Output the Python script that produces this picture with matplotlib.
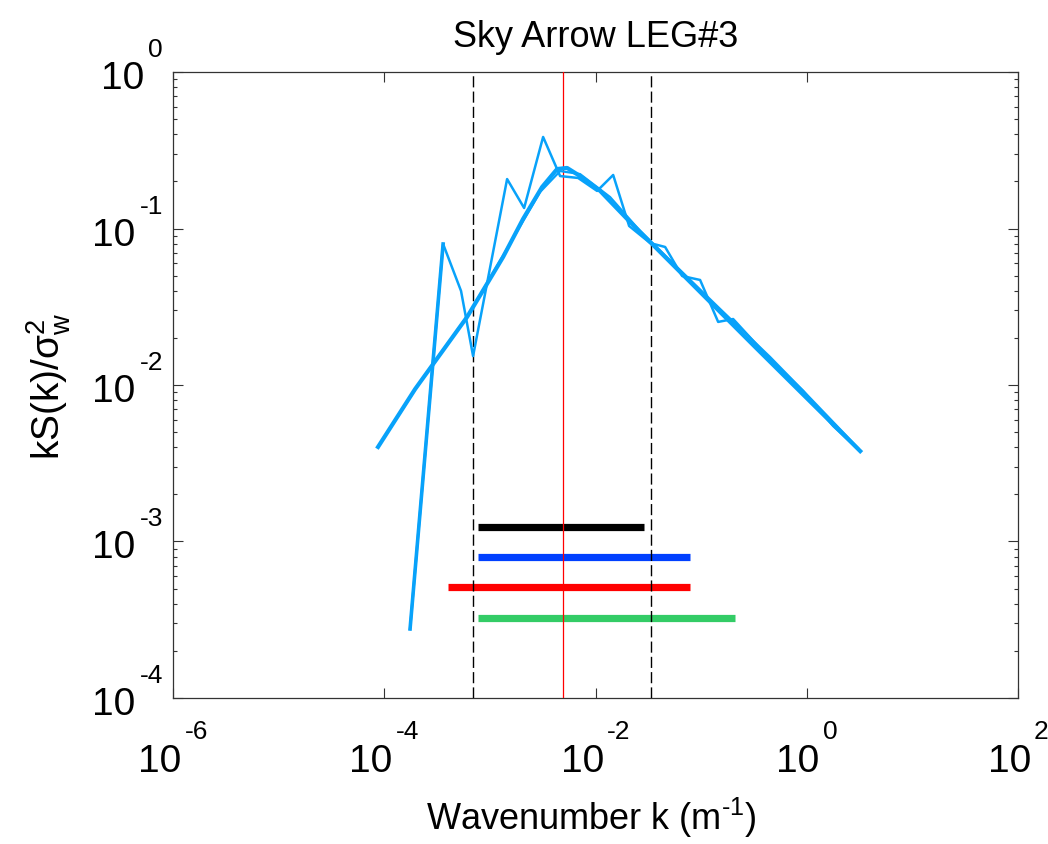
import numpy as np
import matplotlib
matplotlib.use('Agg')
import matplotlib.pyplot as plt

plt.rcParams['font.family'] = ['Liberation Sans', 'DejaVu Sans']
plt.rcParams['mathtext.fontset'] = 'custom'
plt.rcParams['mathtext.rm'] = 'Liberation Sans'
plt.rcParams['mathtext.it'] = 'Liberation Sans'
plt.rcParams['mathtext.bf'] = 'Liberation Sans:bold'

# Espectro crudo
k_raw = [1.754e-4, 3.606e-4, 5.33e-4, 6.93e-4, 1.455e-3, 2.109e-3, 3.19e-3, 4.62e-3,
         6.84e-3, 1.035e-2, 1.469e-2, 2.08e-2, 3.29e-2, 4.56e-2, 6.61e-2, 9.77e-2,
         0.1449, 0.2009, 0.4217, 0.9247, 1.778, 3.206]
s_raw = [2.761e-4, 7.96e-2, 3.99e-2, 1.531e-2, 0.207, 0.1352, 0.3846, 0.2163,
         0.2104, 0.1738, 0.2198, 0.1038, 8.07e-2, 7.62e-2, 4.97e-2, 4.69e-2,
         2.53e-2, 2.64e-2, 1.531e-2, 9.16e-3, 5.47e-3, 3.78e-3]

# Espectro promediado por bandas
k_bin = [9.12e-5, 2.183e-4, 6.49e-4, 1.393e-3, 2.985e-3, 4.62e-3, 7.14e-3, 1.374e-2,
         2.642e-2, 6.32e-2, 0.1514, 0.4498, 1.076, 3.069]
s_bin = [4.20e-3, 1.045e-2, 2.92e-2, 7.08e-2, 0.171, 0.2328, 0.2228, 0.1589,
         9.64e-2, 5.43e-2, 3.06e-2, 1.51e-2, 8.26e-3, 3.95e-3]

# Modelo ajustado
k_fit = [8.73e-5, 1.959e-4, 6.08e-4, 9.62e-4, 1.334e-3, 2.061e-3, 3.12e-3, 4.33e-3,
         5.38e-3, 7.14e-3, 1.107e-2, 1.99e-2, 3.29e-2, 0.3243, 3.206]
s_fit = [4.02e-3, 9.42e-3, 2.72e-2, 4.55e-2, 6.58e-2, 0.1151, 0.1841, 0.2399,
         0.2438, 0.2163, 0.1738, 0.1151, 8.20e-2, 1.750e-2, 3.78e-3]

# Rangos (barras horizontales)
bar_y = [1.24e-3, 7.96e-4, 5.12e-4, 3.24e-4]
bar_k0 = [7.73e-4, 7.73e-4, 4.02e-4, 7.73e-4]
bar_k1 = [2.88e-2, 7.87e-2, 7.87e-2, 0.210]
bar_colors = ['black', '#0040ff', '#ff0000', '#33cc66']

# Lineas verticales
k_dash = [6.93e-4, 3.37e-2]
k_peak = 4.93e-3

xtick_exp = [-6, -4, -2, 0, 2]
ytick_exp = [-4, -3, -2, -1, 0]

blue = '#08a2fa'

fig = plt.figure(figsize=(10.48, 8.45), dpi=100)
ax = fig.add_axes([0.1651, 0.1728, 0.8063, 0.7408])

for y, a, b, c in zip(bar_y, bar_k0, bar_k1, bar_colors):
    ax.plot([a, b], [y, y], color=c, lw=5.2, solid_capstyle='butt', zorder=2)

for kd in k_dash:
    ax.axvline(kd, color='black', lw=1.0, dashes=(8, 3), zorder=3)
ax.axvline(k_peak, color='red', lw=0.9, zorder=3)

ax.plot(k_raw[:2], s_raw[:2], color=blue, lw=2.6, zorder=4)
ax.plot(k_raw, s_raw, color=blue, lw=1.8, zorder=4)
ax.plot(k_bin, s_bin, color=blue, lw=1.6, zorder=4)
ax.plot(k_fit, s_fit, color=blue, lw=3.0, zorder=4)

ax.set_xscale('log')
ax.set_yscale('log')
ax.set_xlim(1e-6, 1e2)
ax.set_ylim(1e-4, 1e0)

ax.set_xticks([10.0 ** e for e in xtick_exp])
ax.xaxis.set_minor_locator(matplotlib.ticker.NullLocator())
ax.set_yticks([10.0 ** e for e in ytick_exp])
ax.yaxis.set_minor_locator(matplotlib.ticker.LogLocator(base=10, subs=np.arange(2, 10)))
ax.set_xticklabels([])
ax.set_yticklabels([])
ax.yaxis.set_minor_formatter(matplotlib.ticker.NullFormatter())
ax.tick_params(which='major', direction='in', length=7, width=0.8, color='#333333',
               top=True, right=True)
ax.tick_params(which='minor', direction='in', length=3, width=0.8, color='#333333',
               top=True, right=True)
for sp in ax.spines.values():
    sp.set_color('#333333')
    sp.set_linewidth(0.9)

# Etiquetas de ticks estilo "10^n"
BASE_FS = 28
EXP_FS = 19
fig.canvas.draw()
r = fig.canvas.get_renderer()


def text_width(s, fs):
    t = fig.text(0, 0, s, fontsize=fs)
    w = t.get_window_extent(renderer=r).width
    t.remove()
    return w


w10 = text_width('10', BASE_FS)
for e in xtick_exp:
    s = str(e)
    we = text_width(s, EXP_FS)
    left = -(w10 + 3 + we) / 2
    ax.annotate('10', xy=(10.0 ** e, 0), xycoords=('data', 'axes fraction'),
                xytext=(left, -73), textcoords='offset pixels',
                ha='left', va='baseline', fontsize=BASE_FS, annotation_clip=False)
    ax.annotate(s, xy=(10.0 ** e, 0), xycoords=('data', 'axes fraction'),
                xytext=(left + w10 + 3, -40), textcoords='offset pixels',
                ha='left', va='baseline', fontsize=EXP_FS, annotation_clip=False)

for e in ytick_exp:
    s = str(e)
    we = text_width(s, EXP_FS)
    ax.annotate(s, xy=(0, 10.0 ** e), xycoords=('axes fraction', 'data'),
                xytext=(-10, 16), textcoords='offset pixels',
                ha='right', va='baseline', fontsize=EXP_FS, annotation_clip=False)
    ax.annotate('10', xy=(0, 10.0 ** e), xycoords=('axes fraction', 'data'),
                xytext=(-(10 + we + 4), -16), textcoords='offset pixels',
                ha='right', va='baseline', fontsize=BASE_FS, annotation_clip=False)

ax.set_title('Sky Arrow LEG#3', fontsize=26, pad=19)
ax.set_xlabel(r'Wavenumber k (m$^{\text{-1}}$)', fontsize=26)
ax.xaxis.label.set_va('baseline')
ax.xaxis.set_label_coords(0.495, -0.209)
ax.set_ylabel(r'kS(k)/σ$^{2}_{\text{w}}$', fontsize=28)
ax.yaxis.set_label_coords(-0.118, 0.5)

fig.savefig('out.png', dpi=100)
